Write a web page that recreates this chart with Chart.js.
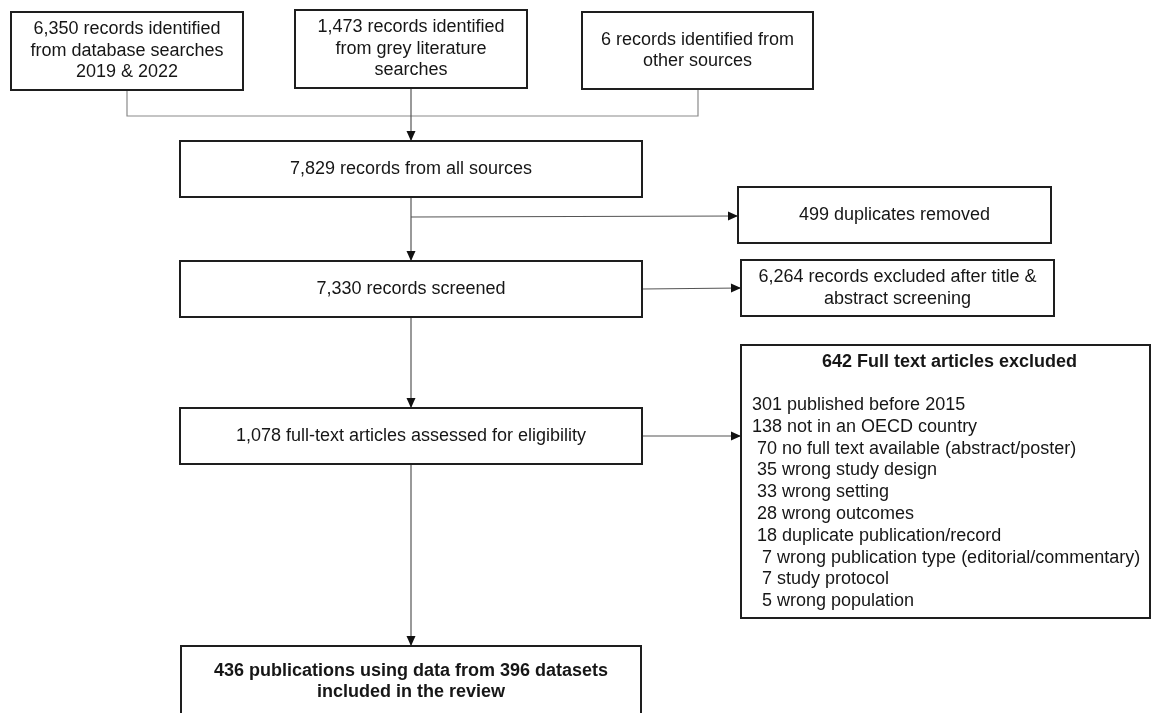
<!DOCTYPE html>
<html>
<head>
<meta charset="utf-8">
<script src="https://cdn.jsdelivr.net/npm/chart.js@4/dist/chart.umd.min.js"></script>
<style>
  html, body { margin: 0; padding: 0; background: #ffffff; }
  #wrap { width: 1152px; height: 713px; position: relative; }
</style>
</head>
<body>
<div id="wrap"><canvas id="c"></canvas></div>
<script>
// ---- data ----
const sourceCounts = [6350, 1473, 6];
const sourceNames = [
  ['records identified', 'from database searches', '2019 & 2022'],
  ['records identified', 'from grey literature', 'searches'],
  ['records identified from', 'other sources']
];
const stageNames = ['records from all sources', 'duplicates removed', 'records screened',
  'records excluded after title &', 'full-text articles assessed for eligibility',
  'Full text articles excluded', 'publications using data from'];
const stageCounts = [7829, 499, 7330, 6264, 1078, 642, 436];
const datasetCount = 396;
const exclusionReasons = ['published before 2015', 'not in an OECD country',
  'no full text available (abstract/poster)', 'wrong study design', 'wrong setting',
  'wrong outcomes', 'duplicate publication/record',
  'wrong publication type (editorial/commentary)', 'study protocol', 'wrong population'];
const exclusionCounts = [301, 138, 70, 35, 33, 28, 18, 7, 7, 5];

// ---- layout (pixel-space of the flow diagram) ----
const fmt = n => n.toLocaleString('en-US');
const layout = {
  src: [ {x1: 11, y1: 12, x2: 243, y2: 90}, {x1: 295, y1: 10, x2: 527, y2: 88}, {x1: 582, y1: 12, x2: 813, y2: 89} ],
  all: {x1: 180, y1: 141, x2: 642, y2: 197},
  dup: {x1: 738, y1: 187, x2: 1051, y2: 243},
  scr: {x1: 180, y1: 261, x2: 642, y2: 317},
  exc1: {x1: 741, y1: 260, x2: 1054, y2: 316},
  full: {x1: 180, y1: 408, x2: 642, y2: 464},
  exc2: {x1: 741, y1: 345, x2: 1150, y2: 618},
  fin: {x1: 181, y1: 646, x2: 641, y2: 740},
  mainX: 411, joinY: 116, dupY: 217
};

const FONT = '"Liberation Sans", Arial, Helvetica, sans-serif';

const flowPlugin = {
  id: 'flow',
  afterDraw(chart) {
    const ctx = chart.ctx;
    const sx = chart.scales.x, sy = chart.scales.y;
    const X = v => sx.getPixelForValue(v);
    const Y = v => sy.getPixelForValue(v);

    function box(b) {
      ctx.save();
      ctx.strokeStyle = '#1e1e1e';
      ctx.lineWidth = 2;
      ctx.fillStyle = '#ffffff';
      ctx.fillRect(X(b.x1), Y(b.y1), X(b.x2) - X(b.x1), Y(b.y2) - Y(b.y1));
      ctx.strokeRect(X(b.x1), Y(b.y1), X(b.x2) - X(b.x1), Y(b.y2) - Y(b.y1));
      ctx.restore();
    }
    function lines(list, cx, cy, bold, lh) {
      ctx.save();
      ctx.fillStyle = '#161616';
      ctx.font = (bold ? 'bold ' : '') + '18px ' + FONT;
      ctx.textAlign = 'center';
      ctx.textBaseline = 'middle';
      const start = cy - (list.length - 1) * lh / 2;
      list.forEach((t, i) => ctx.fillText(t, X(cx), Y(start + i * lh)));
      ctx.restore();
    }
    function centerText(b, list, bold) {
      lines(list, (b.x1 + b.x2) / 2, (b.y1 + b.y2) / 2, bold, 21.5);
    }
    function seg(pts, color) {
      ctx.save();
      ctx.strokeStyle = color;
      ctx.lineWidth = 1.2;
      ctx.beginPath();
      pts.forEach((p, i) => i ? ctx.lineTo(X(p[0]), Y(p[1])) : ctx.moveTo(X(p[0]), Y(p[1])));
      ctx.stroke();
      ctx.restore();
    }
    function arrow(x1, y1, x2, y2) {
      seg([[x1, y1], [x2, y2]], '#555555');
      const ang = Math.atan2(Y(y2) - Y(y1), X(x2) - X(x1));
      const L = 10, W = 4.5;
      const tx = X(x2), ty = Y(y2);
      ctx.save();
      ctx.fillStyle = '#111111';
      ctx.beginPath();
      ctx.moveTo(tx, ty);
      ctx.lineTo(tx - L * Math.cos(ang) + W * Math.sin(ang), ty - L * Math.sin(ang) - W * Math.cos(ang));
      ctx.lineTo(tx - L * Math.cos(ang) - W * Math.sin(ang), ty - L * Math.sin(ang) + W * Math.cos(ang));
      ctx.closePath();
      ctx.fill();
      ctx.restore();
    }

    const L = layout;
    // connectors
    const c0 = (L.src[0].x1 + L.src[0].x2) / 2 - 0;
    const c2 = (L.src[2].x1 + L.src[2].x2) / 2;
    seg([[127, L.src[0].y2], [127, L.joinY], [698, L.joinY], [698, L.src[2].y2]], '#8a8a8a');
    arrow(L.mainX, L.src[1].y2, L.mainX, L.all.y1);
    arrow(L.mainX, L.all.y2, L.mainX, L.scr.y1);
    arrow(L.mainX, L.dupY, L.dup.x1, L.dupY - 1);
    arrow(L.all.x2, (L.scr.y1 + L.scr.y2) / 2, L.exc1.x1, (L.exc1.y1 + L.exc1.y2) / 2);
    arrow(L.mainX, L.scr.y2, L.mainX, L.full.y1);
    arrow(L.full.x2, (L.full.y1 + L.full.y2) / 2, L.exc2.x1, (L.full.y1 + L.full.y2) / 2);
    arrow(L.mainX, L.full.y2, L.mainX, L.fin.y1);

    // boxes
    L.src.forEach((b, i) => {
      box(b);
      const t = sourceNames[i].slice();
      t[0] = fmt(sourceCounts[i]) + ' ' + t[0];
      centerText(b, t, false);
    });
    box(L.all); centerText(L.all, [fmt(stageCounts[0]) + ' ' + stageNames[0]], false);
    box(L.dup); centerText(L.dup, [fmt(stageCounts[1]) + ' ' + stageNames[1]], false);
    box(L.scr); centerText(L.scr, [fmt(stageCounts[2]) + ' ' + stageNames[2]], false);
    box(L.exc1); centerText(L.exc1, [fmt(stageCounts[3]) + ' ' + stageNames[3], 'abstract screening'], false);
    box(L.full); centerText(L.full, [fmt(stageCounts[4]) + ' ' + stageNames[4]], false);
    box(L.exc2);
    lines([fmt(stageCounts[5]) + ' ' + stageNames[5]], (L.exc2.x1 + L.exc2.x2) / 2 + 4, 362, true, 21.8);
    ctx.save();
    ctx.fillStyle = '#161616';
    ctx.font = '18px ' + FONT;
    ctx.textAlign = 'left';
    ctx.textBaseline = 'middle';
    exclusionReasons.forEach((r, i) => {
      const t = String(exclusionCounts[i]).padStart(3, ' ') + ' ' + r;
      ctx.fillText(t, X(752), Y(405 + i * 21.8));
    });
    ctx.restore();
    box(L.fin);
    lines([fmt(stageCounts[6]) + ' ' + stageNames[6] + ' ' + datasetCount + ' datasets', 'included in the review'],
      L.mainX, 681.5, true, 21.5);
  }
};

new Chart(document.getElementById('c'), {
  type: 'scatter',
  data: { datasets: [{ data: [], pointRadius: 0 }] },
  options: {
    responsive: true,
    maintainAspectRatio: false,
    animation: false,
    layout: { padding: 0 },
    plugins: { legend: { display: false }, tooltip: { enabled: false } },
    scales: {
      x: { type: 'linear', min: 0, max: 1152, display: false },
      y: { type: 'linear', min: 0, max: 713, reverse: true, display: false }
    }
  },
  plugins: [flowPlugin]
});
</script>
</body>
</html>
